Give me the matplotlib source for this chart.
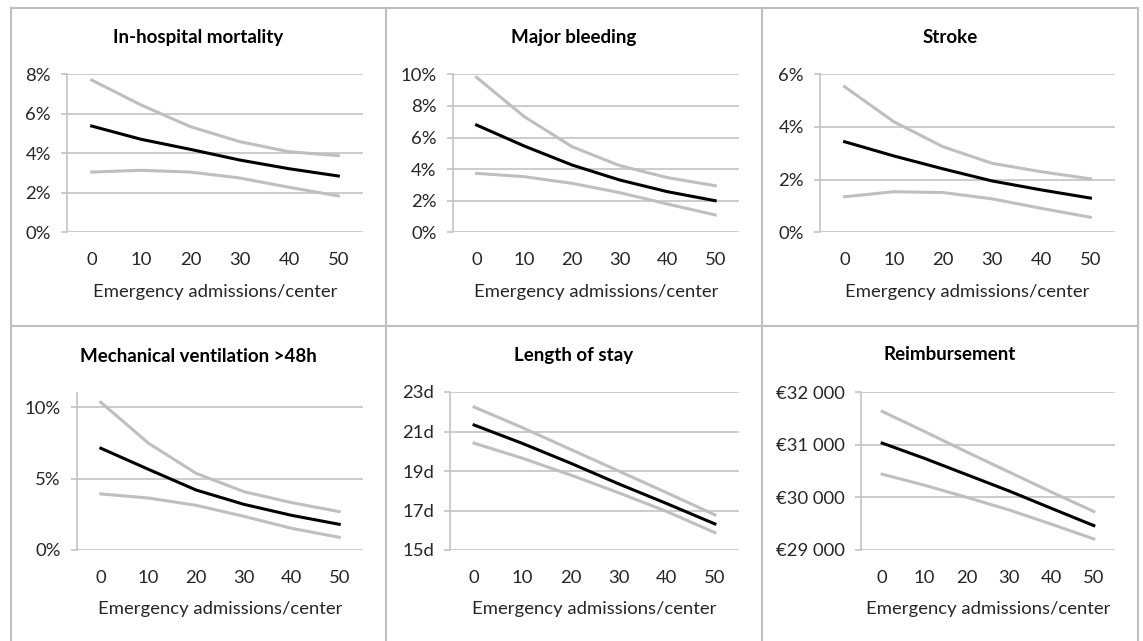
import matplotlib.pyplot as plt
from matplotlib.lines import Line2D
from matplotlib.ticker import FuncFormatter

plt.rcParams['font.family'] = ['Lato', 'DejaVu Sans']

categories = [0, 10, 20, 30, 40, 50]
x_label = 'Emergency admissions/center'

# in-hospital mortality (%)
mort_upper = [7.71, 6.45, 5.35, 4.59, 4.08, 3.88]
mort_mean = [5.38, 4.71, 4.20, 3.66, 3.22, 2.85]
mort_lower = [3.05, 3.14, 3.05, 2.75, 2.28, 1.84]

# major bleeding (%)
bleed_upper = [9.81, 7.32, 5.42, 4.22, 3.46, 2.95]
bleed_mean = [6.79, 5.46, 4.26, 3.31, 2.57, 2.00]
bleed_lower = [3.73, 3.52, 3.10, 2.51, 1.79, 1.10]

# stroke (%)
stroke_upper = [5.53, 4.20, 3.25, 2.62, 2.30, 2.03]
stroke_mean = [3.44, 2.90, 2.41, 1.95, 1.61, 1.30]
stroke_lower = [1.35, 1.54, 1.51, 1.27, 0.91, 0.57]

# mechanical ventilation >48h (%)
vent_upper = [10.35, 7.48, 5.37, 4.09, 3.32, 2.69]
vent_mean = [7.13, 5.65, 4.20, 3.20, 2.43, 1.80]
vent_lower = [3.93, 3.64, 3.13, 2.36, 1.52, 0.89]

# length of stay (days)
los_upper = [22.24, 21.20, 20.10, 19.00, 17.90, 16.78]
los_mean = [21.33, 20.40, 19.40, 18.35, 17.35, 16.32]
los_lower = [20.41, 19.65, 18.80, 17.90, 16.95, 15.88]

# reimbursement (EUR)
reimb_upper = [31632, 31250, 30860, 30480, 30100, 29730]
reimb_mean = [31030, 30740, 30430, 30120, 29790, 29463]
reimb_lower = [30440, 30230, 30000, 29760, 29490, 29210]

GRAY = '#bfbfbf'
TEXT = '#262626'
W, H = 1143, 641


def pct(v, _):
    return f'{v:.0f}%'


def days(v, _):
    return f'{v:.0f}d'


def euro(v, _):
    s = f'{int(v):,}'.replace(',', ' ')
    return '\u20ac' + s


panels = [
    # title, series, yticks, ylim, formatter, axes box (px: left, right, top, bottom), panel center x
    ('In-hospital mortality', (mort_upper, mort_mean, mort_lower),
     [0, 2, 4, 6, 8], (0, 8), pct, (67, 363, 74.3, 232.3), 198),
    ('Major bleeding', (bleed_upper, bleed_mean, bleed_lower),
     [0, 2, 4, 6, 8, 10], (0, 10), pct, (452.7, 739, 74.3, 232.3), 574),
    ('Stroke', (stroke_upper, stroke_mean, stroke_lower),
     [0, 2, 4, 6], (0, 6), pct, (820, 1115, 74.3, 232.3), 950),
    ('Mechanical ventilation >48h', (vent_upper, vent_mean, vent_lower),
     [0, 5, 10], (0, 11), pct, (77, 363, 393, 550), 198),
    ('Length of stay', (los_upper, los_mean, los_lower),
     [15, 17, 19, 21, 23], (15, 23), days, (450, 739, 392, 550), 574),
    ('Reimbursement', (reimb_upper, reimb_mean, reimb_lower),
     [29000, 30000, 31000, 32000], (29000, 32000), euro, (861, 1115, 392, 550), 950),
]

fig = plt.figure(figsize=(W / 100, H / 100), dpi=100)

for title, (upper, mean, lower), yticks, ylim, fmt, box, cx in panels:
    l, r, t, b = box
    ax = fig.add_axes([l / W, 1 - b / H, (r - l) / W, (b - t) / H])
    xs = range(len(categories))
    ax.plot(xs, upper, color=GRAY, lw=2.2, zorder=3)
    ax.plot(xs, lower, color=GRAY, lw=2.2, zorder=3)
    ax.plot(xs, mean, color='black', lw=2.2, zorder=4)
    ax.set_xlim(-0.5, len(categories) - 0.5)
    ax.set_ylim(*ylim)
    ax.set_yticks(yticks)
    ax.yaxis.set_major_formatter(FuncFormatter(fmt))
    ax.set_xticks(list(xs))
    ax.set_xticklabels([str(c) for c in categories])
    ax.grid(axis='y', color=GRAY, lw=1.1)
    ax.set_axisbelow(True)
    for side in ('top', 'right', 'bottom'):
        ax.spines[side].set_visible(False)
    ax.spines['left'].set_color(GRAY)
    ax.spines['left'].set_linewidth(1.1)
    ax.tick_params(axis='y', length=4.5, width=1.1, color=GRAY, pad=7,
                   labelsize=13.3, labelcolor=TEXT)
    ax.tick_params(axis='x', length=0, pad=14.5, labelsize=13.3, labelcolor=TEXT)
    ax.set_xlabel(x_label, fontsize=13.3, color=TEXT, labelpad=11)
    fig.text(cx / W, 1 - (t - 37) / H, title, ha='center', va='center',
             fontsize=13.5, fontweight='bold', color='black')

# panel borders
for x in (10.5, 386, 762, 1138):
    fig.add_artist(Line2D([x / W, x / W], [0, 1 - 8 / H], color=GRAY, lw=1.5))
for y in (8, 326):
    fig.add_artist(Line2D([10.5 / W, 1138 / W], [1 - y / H, 1 - y / H], color=GRAY, lw=1.5))

fig.savefig('out.png', dpi=100)
